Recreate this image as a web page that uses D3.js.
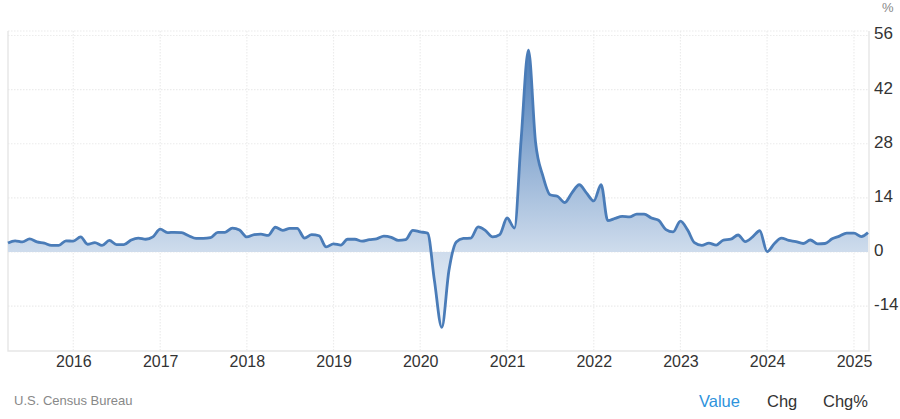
<!DOCTYPE html>
<html>
<head>
<meta charset="utf-8">
<script src="https://cdn.jsdelivr.net/npm/d3@7"></script>
<style>
  html, body { margin: 0; padding: 0; background: #fff; }
  svg { display: block; }
  text { font-family: "Liberation Sans", Arial, sans-serif; }
</style>
</head>
<body>
<script>
// monthly values, Apr 2015 .. Mar 2025
const startMonth = new Date(2015, 3, 1);
const values = [
  2.3, 2.9, 2.6, 3.4, 2.6, 2.3, 1.7, 1.7, 2.9,
  2.8, 3.9, 2.0, 2.4, 1.7, 3.0, 1.9, 1.9, 3.1, 3.6, 3.3, 3.9,
  5.9, 5.0, 5.1, 5.0, 4.2, 3.5, 3.5, 3.7, 5.1, 5.1, 6.2, 5.7,
  3.9, 4.5, 4.6, 4.3, 6.4, 5.6, 6.1, 6.1, 3.6, 4.5, 4.2, 1.3,
  2.1, 1.8, 3.3, 3.3, 2.8, 3.2, 3.4, 4.1, 3.8, 3.0, 3.2, 5.6,
  5.2, 4.9, -7.4, -19.5, -4.8, 2.6, 3.5, 3.6, 6.5, 5.6, 3.9, 4.5,
  8.8, 6.2, 29, 52.2, 28.3, 19.6, 14.8, 14.4, 12.8, 15.3, 17.4, 15.3,
  13.2, 17.4, 8.1, 8.7, 9.2, 9.1, 9.8, 9.8, 8.8, 8.2, 5.8, 5.2,
  8.0, 5.6, 2.4, 1.7, 2.3, 1.8, 3.1, 3.3, 4.4, 2.7, 3.9, 5.5,
  0.1, 2.2, 3.6, 3.0, 2.7, 2.2, 3.1, 2.1, 2.2, 3.4, 4.1, 4.9,
  4.9, 4.0, 5.0
];
const yTicks = [-14, 0, 14, 28, 42, 56];
const yearTicks = d3.range(2016, 2026);
const tabs = ["Value", "Chg", "Chg%"];
const source = "U.S. Census Bureau";

const W = 900, H = 419;
const months = values.map((_, i) => d3.timeMonth.offset(startMonth, i));
const data = months.map((d, i) => ({ date: d, value: values[i] }));

const x = d3.scaleTime()
    .domain([months[0], months[months.length - 1]])
    .range([8, 868]);
const y = d3.scaleLinear().domain([0, 56]).range([252, 35.5]);
const plotTop = 31, plotBottom = 351;

const svg = d3.select("body").append("svg")
    .attr("width", W).attr("height", H)
    .attr("viewBox", [0, 0, W, H]);

const grad = svg.append("defs").append("linearGradient")
    .attr("id", "fill")
    .attr("gradientUnits", "userSpaceOnUse")
    .attr("x1", 0).attr("x2", 0)
    .attr("y1", y(52)).attr("y2", y(-19.5));
grad.append("stop").attr("offset", 0).attr("stop-color", "#4a7cb8");
grad.append("stop").attr("offset", 0.72).attr("stop-color", "#cddbec");
grad.append("stop").attr("offset", 1).attr("stop-color", "#f2f6fa");

// grid
svg.append("g").selectAll("line").data(yTicks.concat([null])).join("line")
    .attr("x1", 8).attr("x2", 868)
    .attr("y1", d => d === null ? plotTop : y(d))
    .attr("y2", d => d === null ? plotTop : y(d))
    .attr("stroke", "#ececec")
    .attr("stroke-width", 1.2)
    .attr("stroke-dasharray", "1.5,1.5");
svg.append("g").selectAll("line").data(yearTicks).join("line")
    .attr("x1", d => x(new Date(d, 0, 1))).attr("x2", d => x(new Date(d, 0, 1)))
    .attr("y1", plotTop).attr("y2", plotBottom)
    .attr("stroke", "#ececec")
    .attr("stroke-width", 1.2)
    .attr("stroke-dasharray", "1.5,1.5");

// frame
svg.append("path")
    .attr("d", `M8,${plotTop}V${plotBottom}H869V${plotTop}`)
    .attr("fill", "none")
    .attr("stroke", "#e6e6e6")
    .attr("stroke-width", 1.4);

const curve = d3.curveMonotoneX;
svg.append("path").datum(data)
    .attr("fill", "url(#fill)")
    .attr("d", d3.area().curve(curve)
      .x(d => x(d.date)).y0(y(0)).y1(d => y(d.value)));
svg.append("path").datum(data)
    .attr("fill", "none")
    .attr("stroke", "#4a7cb8")
    .attr("stroke-width", 2.8)
    .attr("stroke-linejoin", "round")
    .attr("d", d3.line().curve(curve)
      .x(d => x(d.date)).y(d => y(d.value)));

// axes
const xAxis = d3.axisBottom(x)
    .tickValues(yearTicks.map(d => new Date(d, 0, 1)))
    .tickFormat(d3.timeFormat("%Y"))
    .tickSize(0).tickPadding(5);
svg.append("g").attr("transform", `translate(0,${plotBottom})`).call(xAxis)
    .call(g => g.select(".domain").remove())
    .selectAll("text")
    .attr("font-size", 16).attr("fill", "#333");

const yAxis = d3.axisRight(y)
    .tickValues(yTicks)
    .tickFormat(d => String(d))
    .tickSize(0).tickPadding(0);
svg.append("g").attr("transform", "translate(874,-2)").call(yAxis)
    .call(g => g.select(".domain").remove())
    .selectAll("text")
    .attr("font-size", 17).attr("fill", "#333");

svg.append("text").attr("x", 882).attr("y", 12)
    .attr("font-size", 13).attr("fill", "#888").text("%");

svg.append("text").attr("x", 14).attr("y", 405)
    .attr("font-size", 13).attr("fill", "#888").text(source);

const tabX = d3.scaleOrdinal().domain(tabs).range([699, 767, 823]);
svg.append("g").selectAll("text").data(tabs).join("text")
    .attr("x", d => tabX(d)).attr("y", 407)
    .attr("font-size", 16.5)
    .attr("fill", d => d === "Value" ? "#2e93dc" : "#333")
    .text(d => d);
</script>
</body>
</html>
